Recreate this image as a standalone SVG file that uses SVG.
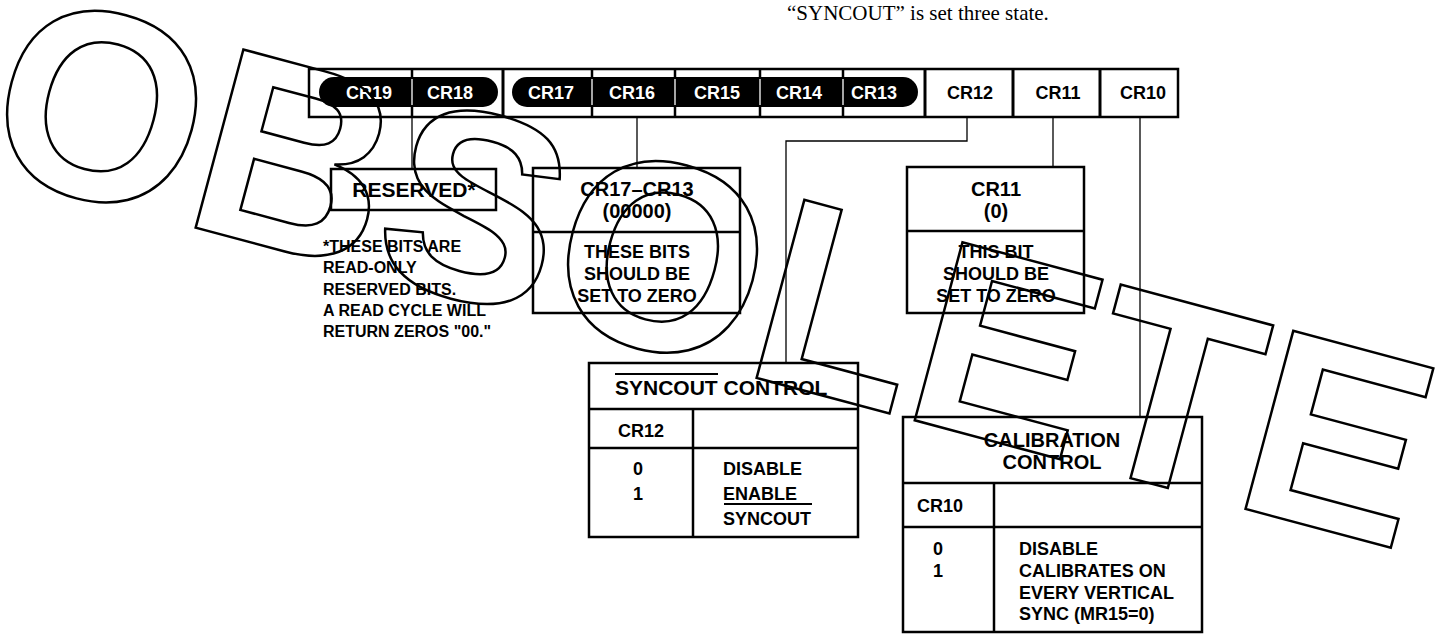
<svg xmlns="http://www.w3.org/2000/svg" width="1441" height="635" viewBox="0 0 1441 635">
<style>
.b{fill:none;stroke:#000;stroke-width:2.5}
.c{fill:none;stroke:#000;stroke-width:1.3}
.t{font-family:"Liberation Sans",Arial,sans-serif;font-weight:bold;fill:#000}
.h{font-size:21px}
.h2{font-size:20px}
.s{font-size:18px}
.n{font-size:16px}
.m{text-anchor:middle}
.w{fill:#fff}
.wm{font-family:"Liberation Sans",Arial,sans-serif;font-weight:bold;font-size:268px;fill:none;stroke:#000;stroke-width:2.5}
</style>
<rect width="1441" height="635" fill="#fff"/>
<text x="787" y="20" font-family="Liberation Serif,'Times New Roman',serif" font-size="21">“SYNCOUT” is set three state.</text>

<g id="register">
<rect class="b" x="309" y="69" width="869" height="48"/>
<rect x="319" y="77" width="179" height="30" rx="15" fill="#000"/>
<rect x="512" y="77" width="406" height="30" rx="15" fill="#000"/>
<g stroke="#000" stroke-width="2.5">
<line x1="412" y1="69" x2="412" y2="117"/>
<line x1="503" y1="69" x2="503" y2="117" stroke-width="3"/>
<line x1="592" y1="69" x2="592" y2="117"/>
<line x1="675" y1="69" x2="675" y2="117"/>
<line x1="760" y1="69" x2="760" y2="117"/>
<line x1="843" y1="69" x2="843" y2="117"/>
<line x1="925" y1="69" x2="925" y2="117" stroke-width="3"/>
<line x1="1013" y1="69" x2="1013" y2="117" stroke-width="3"/>
<line x1="1100" y1="69" x2="1100" y2="117" stroke-width="3"/>
</g>
<g stroke="#fff" stroke-width="1.3">
<line x1="412" y1="79" x2="412" y2="105"/>
<line x1="592" y1="79" x2="592" y2="105"/>
<line x1="675" y1="79" x2="675" y2="105"/>
<line x1="760" y1="79" x2="760" y2="105"/>
<line x1="843" y1="79" x2="843" y2="105"/>
</g>
<g class="t s m">
<text class="w" x="369" y="99">CR19</text>
<text class="w" x="450" y="99">CR18</text>
<text class="w" x="551" y="99">CR17</text>
<text class="w" x="632" y="99">CR16</text>
<text class="w" x="717" y="99">CR15</text>
<text class="w" x="799" y="99">CR14</text>
<text class="w" x="874" y="99">CR13</text>
<text x="970" y="99">CR12</text>
<text x="1058" y="99">CR11</text>
<text x="1143" y="99">CR10</text>
</g>
</g>

<g id="connectors">
<polyline class="c" points="412,117 412,169"/>
<polyline class="c" points="637,117 637,168"/>
<polyline class="c" points="967,117 967,141 786,141 786,363"/>
<polyline class="c" points="1053,117 1053,167"/>
<polyline class="c" points="1140,117 1140,417"/>
</g>

<g id="reserved">
<rect class="b" x="331" y="169" width="165" height="41"/>
<text class="t h m" x="414" y="197">RESERVED*</text>
</g>

<g id="reserved-note" class="t n">
<text x="323" y="252">*THESE BITS ARE</text>
<text x="323" y="273">READ-ONLY</text>
<text x="323" y="295">RESERVED BITS.</text>
<text x="323" y="316">A READ CYCLE WILL</text>
<text x="323" y="337">RETURN ZEROS "00."</text>
</g>

<g id="cr17-cr13">
<rect class="b" x="533" y="168" width="207" height="145"/>
<line class="b" x1="533" y1="232" x2="740" y2="232"/>
<g class="t m">
<text class="h2" x="637" y="196">CR17–CR13</text>
<text class="h2" x="637" y="218">(00000)</text>
<text class="s" x="637" y="258">THESE BITS</text>
<text class="s" x="637" y="280">SHOULD BE</text>
<text class="s" x="637" y="302">SET TO ZERO</text>
</g>
</g>

<g id="cr11">
<rect class="b" x="907" y="167" width="177" height="146"/>
<line class="b" x1="907" y1="231" x2="1084" y2="231"/>
<g class="t m">
<text class="h2" x="996" y="196">CR11</text>
<text class="h2" x="996" y="218">(0)</text>
<text class="s" x="996" y="258">THIS BIT</text>
<text class="s" x="996" y="280">SHOULD BE</text>
<text class="s" x="996" y="302">SET TO ZERO</text>
</g>
</g>

<g id="syncout-control">
<rect class="b" x="589" y="363" width="269" height="174"/>
<line class="b" x1="589" y1="409" x2="858" y2="409"/>
<line class="b" x1="589" y1="448" x2="858" y2="448"/>
<line class="b" x1="693" y1="409" x2="693" y2="537"/>
<text class="t h" x="615" y="395">SYNCOUT CONTROL</text>
<line x1="615" y1="374" x2="718" y2="374" stroke="#000" stroke-width="1.8"/>
<text class="t s m" x="641" y="437">CR12</text>
<text class="t s m" x="638" y="475">0</text>
<text class="t s m" x="638" y="500">1</text>
<text class="t s" x="723" y="475">DISABLE</text>
<text class="t s" x="723" y="500">ENABLE</text>
<text class="t s" x="723" y="525">SYNCOUT</text>
<line x1="724" y1="504" x2="812" y2="504" stroke="#000" stroke-width="1.8"/>
</g>

<g id="calibration-control">
<rect class="b" x="903" y="417" width="299" height="215"/>
<line class="b" x1="903" y1="483" x2="1202" y2="483"/>
<line class="b" x1="903" y1="527" x2="1202" y2="527"/>
<line class="b" x1="994" y1="483" x2="994" y2="632"/>
<text class="t h2 m" x="1052" y="447">CALIBRATION</text>
<text class="t h2 m" x="1052" y="469">CONTROL</text>
<text class="t s" x="917" y="512">CR10</text>
<text class="t s m" x="938" y="555">0</text>
<text class="t s m" x="938" y="577">1</text>
<text class="t s" x="1019" y="555">DISABLE</text>
<text class="t s" x="1019" y="577">CALIBRATES ON</text>
<text class="t s" x="1019" y="599">EVERY VERTICAL</text>
<text class="t s" x="1019" y="620">SYNC (MR15=0)</text>
</g>

<g id="watermark">
<text class="wm" transform="translate(-23,169) rotate(15)">OBSOLETE</text>
</g>
</svg>
